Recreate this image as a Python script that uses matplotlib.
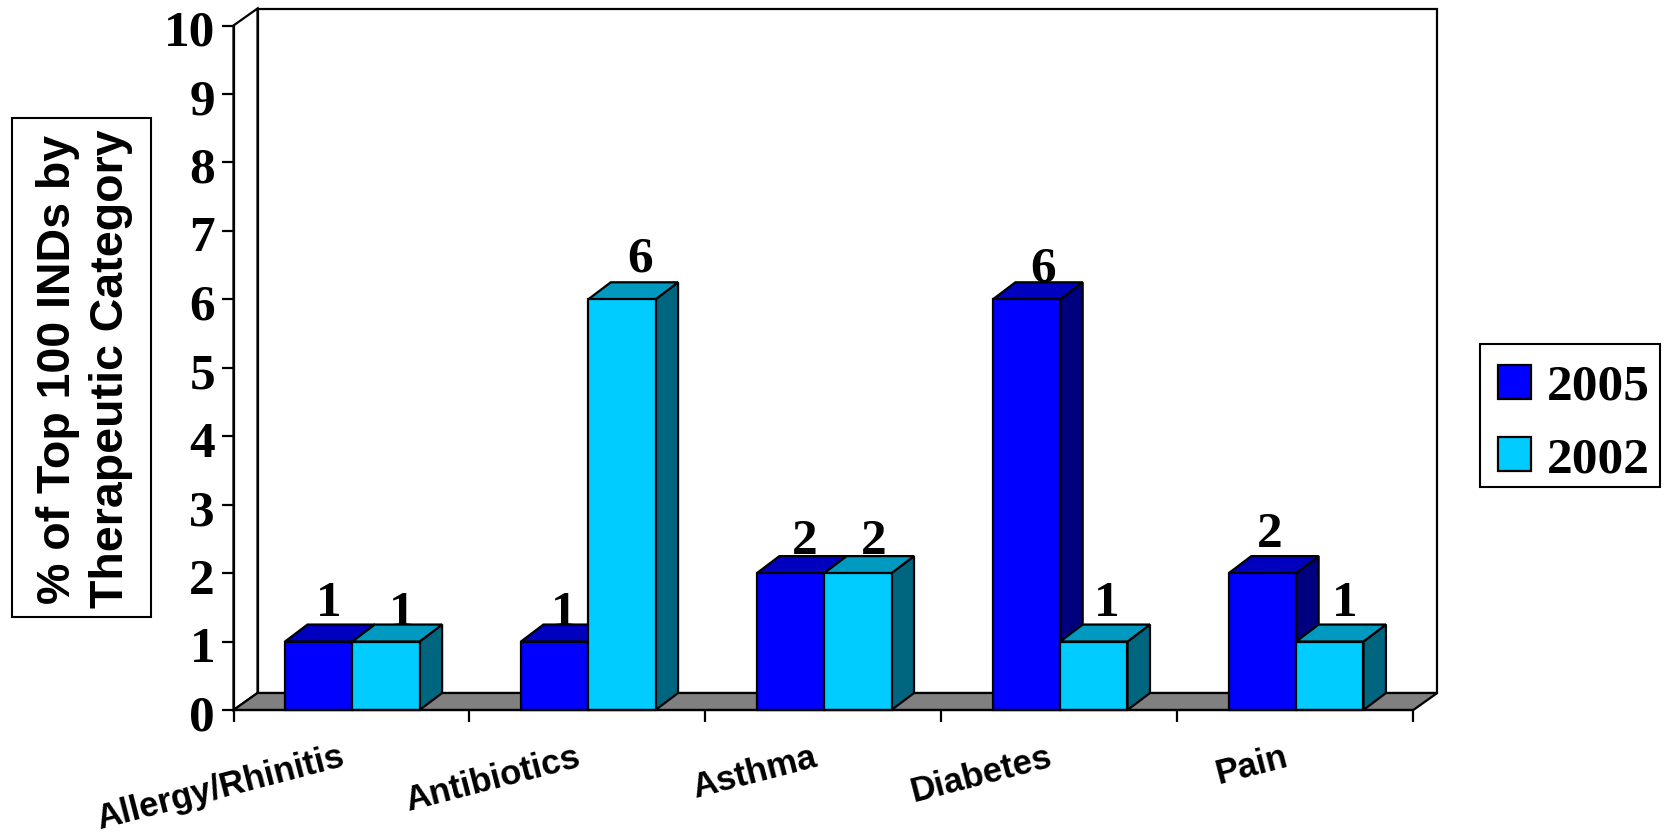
import matplotlib
matplotlib.use("Agg")
import matplotlib.pyplot as plt
from matplotlib.patches import Polygon, Patch, Rectangle
from matplotlib.transforms import ScaledTranslation

categories = ["Allergy/Rhinitis", "Antibiotics", "Asthma", "Diabetes", "Pain"]
values_2005 = [1, 1, 2, 6, 2]
values_2002 = [1, 6, 2, 1, 1]
series_names = ["2005", "2002"]

W, H = 1666, 834
L, R, T, B = 233.5, 1413.3, 25.5, 710.0
UX, UY = (R - L) / 5, (B - T) / 10
DX, DY = 24 / UX, 17 / UY
BAR_DX = 22.5 / UX
BAR = 67.3 / UX
GAP = 51.5 / UX
SERIF = ["Liberation Serif", "DejaVu Serif"]
SANS = ["Liberation Sans", "DejaVu Sans"]
LW = 1.6

fig = plt.figure(figsize=(W / 100, H / 100), dpi=100, facecolor="white")
ax = fig.add_axes([L / W, 1 - B / H, (R - L) / W, (B - T) / H])
ax.set_xlim(0, 5)
ax.set_ylim(0, 10)
ax.patch.set_visible(False)
for s in ("top", "right"):
    ax.spines[s].set_visible(False)
for s in ("left", "bottom"):
    ax.spines[s].set_linewidth(LW)
    ax.spines[s].set_zorder(20)


def poly(pts, fc, z):
    ax.add_patch(Polygon(pts, closed=True, facecolor=fc, edgecolor="black",
                         linewidth=LW, joinstyle="miter", clip_on=False, zorder=z))


# walls and floor
poly([(DX, DY), (5 + DX, DY), (5 + DX, 10 + DY), (DX, 10 + DY)], "white", 1)
poly([(0, 0), (DX, DY), (DX, 10 + DY), (0, 10)], "white", 1)
poly([(0, 0), (5, 0), (5 + DX, DY), (DX, DY)], "#808080", 2)

# labels sit behind the bars; bars cover them where they overlap
nudges_2005 = [(10, 43), (9, 33), (14, 36), (17, 35), (7, 43)]
nudges_2002 = [(16, 33), (18, 45), (16, 36), (13, 43), (15, 43)]


def bar(x, v, front, top, side, z):
    x0, x1 = x, x + BAR
    poly([(x1, 0), (x1 + BAR_DX, DY), (x1 + BAR_DX, v + DY), (x1, v)], side, z)
    poly([(x0, v), (x1, v), (x1 + BAR_DX, v + DY), (x0 + BAR_DX, v + DY)], top, z)
    poly([(x0, 0), (x1, 0), (x1, v), (x0, v)], front, z)


def label(x, v, nudge):
    ax.annotate(str(v), xy=(x + BAR / 2, v), xytext=(nudge[0] * 0.72, (nudge[1] - 17) * 0.72),
                textcoords="offset points", ha="center", va="baseline",
                family=SERIF, fontweight="bold", fontsize=37, zorder=3,
                annotation_clip=False)


for i in range(len(categories)):
    label(i + GAP, values_2005[i], nudges_2005[i])
    label(i + GAP + BAR, values_2002[i], nudges_2002[i])
    bar(i + GAP, values_2005[i], "#0000FF", "#0000BF", "#00007F", 5 + i * 2)
    bar(i + GAP + BAR, values_2002[i], "#00CCFF", "#0099BF", "#00667F", 6 + i * 2)

# axes ticks
ax.set_yticks(range(0, 11))
ax.set_yticklabels([str(v) for v in range(0, 11)], family=SERIF, fontweight="bold", fontsize=37)
ax.tick_params(axis="y", length=8.3, width=LW, pad=5)
for t in ax.get_yticklabels():
    t.set_transform(t.get_transform() + ScaledTranslation(0, -3 / 100, fig.dpi_scale_trans))
ax.set_xticks(range(0, 6))
ax.set_xticklabels([])
ax.tick_params(axis="x", which="major", length=8.3, width=LW)
ax.set_xticks([i + 0.5 for i in range(5)], minor=True)
ax.set_xticklabels(categories, minor=True, family=SANS, fontweight="bold", fontsize=25,
                   rotation=14.5, ha="right", rotation_mode="anchor")
ax.tick_params(axis="x", which="minor", length=0, pad=22)
for t in ax.get_xticklabels(minor=True):
    t.set_transform(t.get_transform() + ScaledTranslation(-12 / 100, 0, fig.dpi_scale_trans))

# y title in a box
x0, x1, y0, y1 = 12.3, 151, 118.3, 617
fig.add_artist(Rectangle((x0 / W, 1 - y1 / H), (x1 - x0) / W, (y1 - y0) / H, transform=fig.transFigure,
                         facecolor="white", edgecolor="black", linewidth=1.5))
fig.text(84.5 / W, 1 - 369 / H, "% of Top 100 INDs by\nTherapeutic Category", rotation=90,
         ha="center", va="center", multialignment="center", family=SANS, fontweight="bold",
         fontsize=33.5, linespacing=1.25)

# legend
x0, x1, y0, y1 = 1479.5, 1660, 344, 487
fig.add_artist(Rectangle((x0 / W, 1 - y1 / H), (x1 - x0) / W, (y1 - y0) / H, transform=fig.transFigure,
                         facecolor="white", edgecolor="black", linewidth=1.5))
handles = [Patch(facecolor="#0000FF", edgecolor="black", linewidth=LW, label=series_names[0]),
           Patch(facecolor="#00CCFF", edgecolor="black", linewidth=LW, label=series_names[1])]
leg = fig.legend(handles=handles, loc="center left", bbox_to_anchor=(1498 / W, 1 - 424 / H),
                 prop=dict(family=SERIF, weight="bold", size=37), frameon=False,
                 handlelength=0.65, handleheight=0.65, handletextpad=0.31,
                 labelspacing=0.51, borderpad=0, borderaxespad=0)

fig.savefig("out.png", dpi=100)
